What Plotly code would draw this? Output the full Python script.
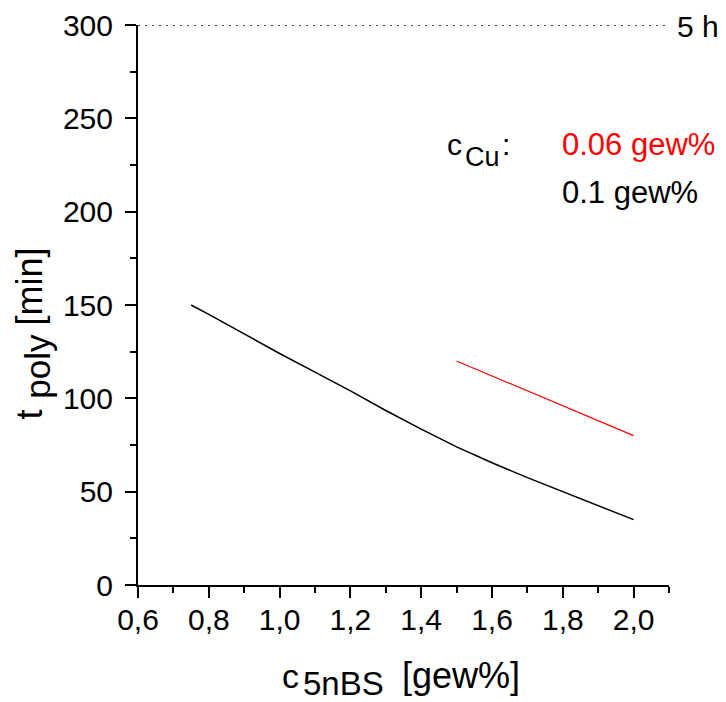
import plotly.graph_objects as go

# Data
x_cu010 = [0.75, 0.8, 0.9, 1.0, 1.1, 1.2, 1.3, 1.4, 1.5, 1.6, 1.7, 1.8, 1.9, 2.0]
t_cu010 = [150, 145, 134.5, 124, 114, 104, 93.5, 83.5, 74, 65.5, 57.5, 50, 42.5, 35]
x_cu006 = [1.5, 2.0]
t_cu006 = [120, 80]
ref_level = 300          # 5 h
ref_label = "5 h"
x_range = [0.6, 2.1]
y_range = [0, 300]
x_ticks = [0.6, 0.8, 1.0, 1.2, 1.4, 1.6, 1.8, 2.0]
x_ticklabels = ["0,6", "0,8", "1,0", "1,2", "1,4", "1,6", "1,8", "2,0"]
y_ticks = [0, 50, 100, 150, 200, 250, 300]

FONT = "Liberation Sans, Arial, sans-serif"

# plot area in window pixels (reference)
PL, PR, PT, PB = 138, 669, 25, 585

fig = go.Figure()
fig.add_trace(go.Scatter(x=x_range, y=[ref_level, ref_level], mode="lines",
                         line=dict(color="#111111", width=1.5, dash="2px,5px"),
                         hoverinfo="skip", cliponaxis=False))
fig.add_trace(go.Scatter(x=x_cu010, y=t_cu010, mode="lines", line=dict(color="black", width=1.5)))
fig.add_trace(go.Scatter(x=x_cu006, y=t_cu006, mode="lines", line=dict(color="#ff0000", width=1.2)))

fig.update_layout(
    width=726, height=702,
    margin=dict(l=PL, r=726 - PR, t=PT, b=702 - PB, pad=0, autoexpand=False),
    paper_bgcolor="white", plot_bgcolor="white",
    showlegend=False,
    font=dict(family=FONT, size=30, color="black"),
)
fig.update_xaxes(range=x_range, tickvals=x_ticks, ticktext=x_ticklabels, automargin=False,
                 ticks="outside", ticklen=11, tickwidth=2, tickcolor="black",
                 showline=True, linewidth=2, linecolor="black", showgrid=False, zeroline=False,
                 tickfont=dict(size=30), ticklabelstandoff=-4,
                 minor=dict(dtick=0.1, ticks="outside", ticklen=6, tickwidth=2, tickcolor="black"))
fig.update_yaxes(range=y_range, tickvals=y_ticks, automargin=False,
                 ticks="outside", ticklen=11, tickwidth=2, tickcolor="black",
                 showline=True, linewidth=2, linecolor="black", showgrid=False, zeroline=False,
                 tickfont=dict(size=30), ticklabelstandoff=6,
                 minor=dict(dtick=25, ticks="outside", ticklen=6, tickwidth=2, tickcolor="black"))


def px_x(p):
    return (p - PL) / float(PR - PL)


def px_y(p):
    return (PB - p) / float(PB - PT)


def mid(baseline, size):
    return baseline - 0.35 * size


ann = [
    # x title
    dict(text="c", x=px_x(281), y=px_y(mid(688, 34)), xanchor="left", yanchor="middle", font=dict(size=34)),
    dict(text="5nBS", x=px_x(302), y=px_y(mid(695, 33)), xanchor="left", yanchor="middle", font=dict(size=33)),
    dict(text="[gew%]", x=px_x(401), y=px_y(mid(688, 36)), xanchor="left", yanchor="middle", font=dict(size=36)),
    # y title (rotated)
    dict(text="t", x=px_x(42 - 0.35 * 36), y=px_y(414), xanchor="center", yanchor="middle",
         textangle=-90, font=dict(size=36)),
    dict(text="poly", x=px_x(49 - 0.35 * 35), y=px_y(366), xanchor="center", yanchor="middle",
         textangle=-90, font=dict(size=35)),
    dict(text="[min]", x=px_x(42 - 0.35 * 36), y=px_y(286), xanchor="center", yanchor="middle",
         textangle=-90, font=dict(size=36)),
    # legend-like labels
    dict(text="c", x=px_x(446), y=px_y(mid(155, 30)), xanchor="left", yanchor="middle", font=dict(size=30)),
    dict(text="Cu", x=px_x(464), y=px_y(mid(166, 27)), xanchor="left", yanchor="middle", font=dict(size=27)),
    dict(text=":", x=px_x(501), y=px_y(mid(155, 30)), xanchor="left", yanchor="middle", font=dict(size=30)),
    dict(text="0.06 gew%", x=px_x(561), y=px_y(mid(155, 31)), xanchor="left", yanchor="middle",
         font=dict(size=31, color="#ff0000")),
    dict(text="0.1 gew%", x=px_x(561), y=px_y(mid(203, 31)), xanchor="left", yanchor="middle",
         font=dict(size=31)),
    dict(text=ref_label, x=px_x(676), y=px_y(mid(37, 30)), xanchor="left", yanchor="middle",
         font=dict(size=30)),
]
for a in ann:
    a.update(xref="paper", yref="paper", showarrow=False, borderpad=0)
    fig.add_annotation(**a)

fig.write_html("out.html", config={"displayModeBar": False},
               post_script="document.body.style.margin='0';")
